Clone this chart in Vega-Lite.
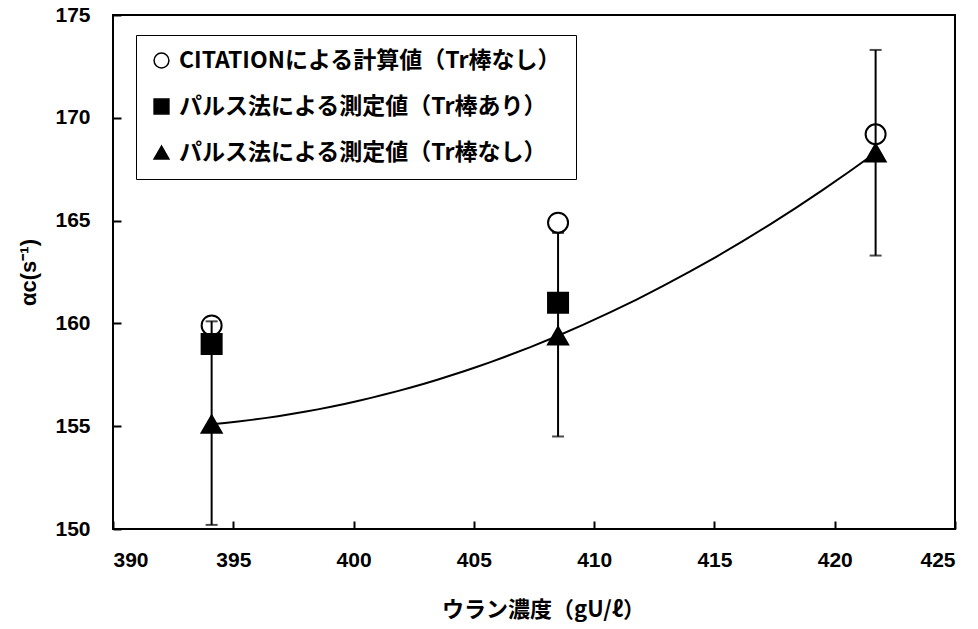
{
  "$schema": "https://vega.github.io/schema/vega-lite/v6.json",
  "autosize": {"type": "none"},
  "padding": {"left": 113, "top": 15, "right": 23, "bottom": 100},
  "width": 842,
  "height": 514,
  "background": "white",
  "config": {
    "view": {"stroke": "black", "strokeWidth": 2},
    "axis": {
      "grid": false,
      "domain": false,
      "tickColor": "black",
      "tickWidth": 2,
      "labelColor": "black",
      "labelFont": "Liberation Sans",
      "labelFontWeight": "bold",
      "labelFontSize": 21,
      "titleFont": "Noto Sans CJK JP",
      "titleFontWeight": "bold",
      "titleFontSize": 22,
      "titleColor": "black"
    },
    "legend": {
      "strokeColor": "black",
      "fillColor": "white",
      "padding": 14,
      "rowPadding": 22,
      "labelFont": "Noto Sans CJK JP",
      "labelFontSize": 23,
      "labelFontWeight": "bold",
      "labelColor": "black",
      "labelOffset": 6,
      "symbolSize": 220,
      "symbolStrokeColor": "black",
      "symbolStrokeWidth": 1.5,
      "labelLimit": 700
    }
  },
  "datasets": {
    "pts": [
      {"u": 394.1, "alpha": 159.9, "series": "CITATIONによる計算値（Tr棒なし）"},
      {"u": 408.5, "alpha": 164.9, "series": "CITATIONによる計算値（Tr棒なし）"},
      {"u": 421.7, "alpha": 169.2, "series": "CITATIONによる計算値（Tr棒なし）"},
      {"u": 394.1, "alpha": 159.0, "series": "パルス法による測定値（Tr棒あり）"},
      {"u": 408.5, "alpha": 161.0, "series": "パルス法による測定値（Tr棒あり）"},
      {"u": 394.1, "alpha": 155.1, "series": "パルス法による測定値（Tr棒なし）"},
      {"u": 408.5, "alpha": 159.4, "series": "パルス法による測定値（Tr棒なし）"},
      {"u": 421.7, "alpha": 168.3, "series": "パルス法による測定値（Tr棒なし）"}
    ],
    "err": [
      {"u": 394.1, "lo": 150.2, "hi": 160.1},
      {"u": 408.5, "lo": 154.5, "hi": 164.4},
      {"u": 421.7, "lo": 163.3, "hi": 173.3}
    ],
    "fit": [
      {"u": 394.1, "alpha": 155.1},
      {"u": 408.5, "alpha": 159.4},
      {"u": 421.7, "alpha": 168.3}
    ]
  },
  "layer": [
    {
      "data": {"name": "err"},
      "mark": {"type": "rule", "color": "black", "strokeWidth": 2},
      "encoding": {
        "x": {"field": "u", "type": "quantitative", "scale": {"domain": [390, 425], "nice": false},
          "axis": {"values": [390,395,400,405,410,415,420,425], "tickSize": -8, "labelPadding": 28, "title": "ウラン濃度（gU/ℓ）", "titlePadding": 29, "titleX": 430}},
        "y": {"field": "lo", "type": "quantitative", "scale": {"domain": [150, 175], "nice": false},
          "axis": {"values": [150,155,160,165,170,175], "tickSize": -8, "labelPadding": 31, "title": "αc(s⁻¹)", "titleFont": "Liberation Sans", "titlePadding": 14}},
        "y2": {"field": "hi"}
      }
    },
    {
      "data": {"name": "err"},
      "mark": {"type": "tick", "color": "black", "orient": "horizontal", "size": 12, "thickness": 2},
      "encoding": {
        "x": {"field": "u", "type": "quantitative"},
        "y": {"field": "lo", "type": "quantitative"}
      }
    },
    {
      "data": {"name": "err"},
      "mark": {"type": "tick", "color": "black", "orient": "horizontal", "size": 12, "thickness": 2},
      "encoding": {
        "x": {"field": "u", "type": "quantitative"},
        "y": {"field": "hi", "type": "quantitative"}
      }
    },
    {
      "data": {"name": "fit"},
      "transform": [{"regression": "alpha", "on": "u", "method": "poly", "order": 2, "extent": [394.1, 421.7]}],
      "mark": {"type": "line", "color": "black", "strokeWidth": 2},
      "encoding": {
        "x": {"field": "u", "type": "quantitative"},
        "y": {"field": "alpha", "type": "quantitative"}
      }
    },
    {
      "data": {"name": "pts"},
      "mark": {"type": "point", "strokeWidth": 2, "opacity": 1, "size": 400},
      "encoding": {
        "x": {"field": "u", "type": "quantitative"},
        "y": {"field": "alpha", "type": "quantitative"},
        "shape": {"field": "series", "type": "nominal",
          "scale": {"domain": ["CITATIONによる計算値（Tr棒なし）", "パルス法による測定値（Tr棒あり）", "パルス法による測定値（Tr棒なし）"], "range": ["circle", "square", "triangle-up"]},
          "legend": {"title": null, "orient": "none", "legendX": 23, "legendY": 20, "labelExpr": "datum.label + '　　'"}},
        "fill": {"field": "series", "type": "nominal",
          "scale": {"domain": ["CITATIONによる計算値（Tr棒なし）", "パルス法による測定値（Tr棒あり）", "パルス法による測定値（Tr棒なし）"], "range": ["transparent", "black", "black"]},
          "legend": {"title": null, "orient": "none", "legendX": 23, "legendY": 20, "labelExpr": "datum.label + '　　'"}},
        "stroke": {"field": "series", "type": "nominal",
          "scale": {"domain": ["CITATIONによる計算値（Tr棒なし）", "パルス法による測定値（Tr棒あり）", "パルス法による測定値（Tr棒なし）"], "range": ["black", "black", "black"]},
          "legend": {"title": null, "orient": "none", "legendX": 23, "legendY": 20, "labelExpr": "datum.label + '　　'"}}
      }
    }
  ]
}
